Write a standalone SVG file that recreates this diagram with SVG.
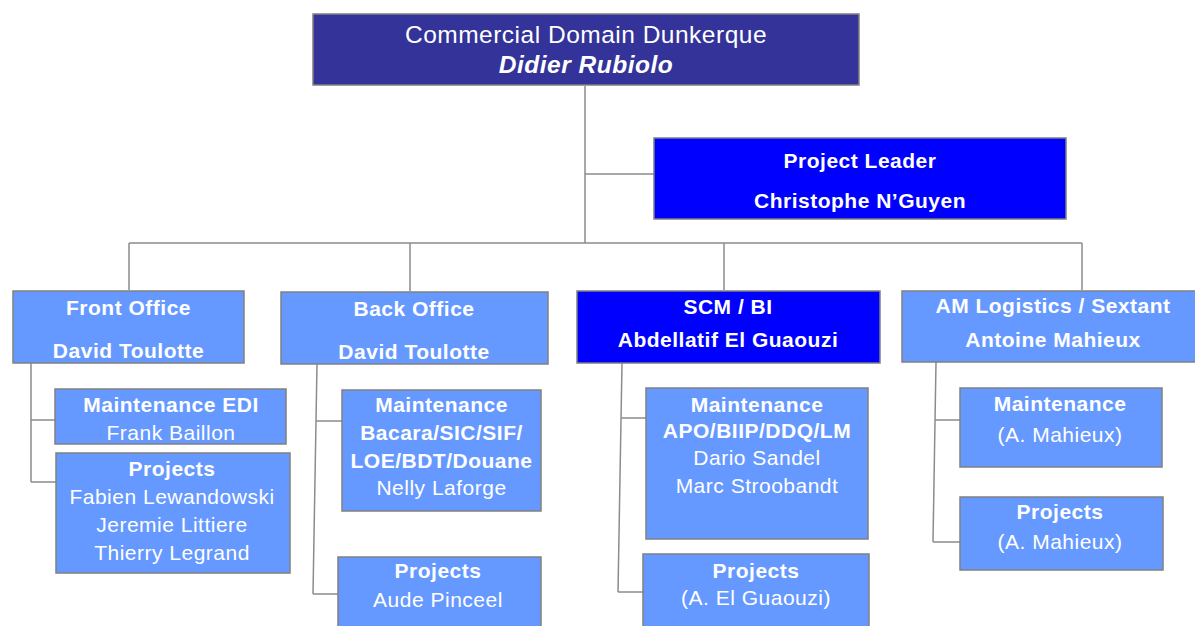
<svg xmlns="http://www.w3.org/2000/svg" width="1195" height="626" viewBox="0 0 1195 626">
<style>
.bx{stroke:#808080;stroke-width:1.5}
.navy{fill:#333399}
.blue{fill:#0000FF}
.lt{fill:#6699FF}
.t{font-family:"Liberation Sans",Arial,sans-serif;fill:#fff;text-anchor:middle;font-size:21px;letter-spacing:0.5px}
.b{font-weight:bold}
.c{fill:none;stroke:#8c8c8c;stroke-width:1.5}
</style>
<rect width="1195" height="626" fill="#fff"/>
<g id="connectors">
<path class="c" d="M585 86V243M585 174H654M129 243H1082M129 243V290M410 243V291M724 243V290M1082 243V290"/>
<path class="c" d="M31 363V482M31 420H55M31 482H56"/>
<path class="c" d="M317 364L313 594M316 421H342M313 594H338"/>
<path class="c" d="M622 363L618 592M621 418H646M618 592H643"/>
<path class="c" d="M936 362L933 542M935 420H960M933 542H960"/>
</g>
<g id="root">
<rect class="bx navy" x="313" y="14" width="546" height="71"/>
<text class="t" x="586" y="43" style="font-size:24.5px;letter-spacing:0.5px">Commercial Domain Dunkerque</text>
<text class="t b" x="586" y="73" style="font-size:24.5px;font-style:italic;letter-spacing:0.5px">Didier Rubiolo</text>
</g>
<g id="project-leader">
<rect class="bx blue" x="654" y="138" width="412" height="81"/>
<text class="t b" x="860" y="168">Project Leader</text>
<text class="t b" x="860" y="208">Christophe N’Guyen</text>
</g>
<g id="front-office">
<rect class="bx lt" x="13" y="291" width="231" height="72"/>
<text class="t b" x="128.5" y="315">Front Office</text>
<text class="t b" x="128.5" y="358">David Toulotte</text>
</g>
<g id="fo-maintenance">
<rect class="bx lt" x="55" y="389" width="231" height="55"/>
<text class="t b" x="171" y="412">Maintenance EDI</text>
<text class="t" x="171" y="440">Frank Baillon</text>
</g>
<g id="fo-projects">
<rect class="bx lt" x="56" y="453" width="234" height="120"/>
<text class="t b" x="172" y="476">Projects</text>
<text class="t" x="172" y="504">Fabien Lewandowski</text>
<text class="t" x="172" y="532">Jeremie Littiere</text>
<text class="t" x="172" y="559.5">Thierry Legrand</text>
</g>
<g id="back-office">
<rect class="bx lt" x="281" y="292" width="267" height="72"/>
<text class="t b" x="414" y="316">Back Office</text>
<text class="t b" x="414" y="359">David Toulotte</text>
</g>
<g id="bo-maintenance">
<rect class="bx lt" x="342" y="390" width="199" height="121"/>
<text class="t b" x="441.5" y="412">Maintenance</text>
<text class="t b" x="441.5" y="440">Bacara/SIC/SIF/</text>
<text class="t b" x="441.5" y="467.5">LOE/BDT/Douane</text>
<text class="t" x="441.5" y="495">Nelly Laforge</text>
</g>
<g id="bo-projects">
<rect class="bx lt" x="338" y="557" width="203" height="80"/>
<text class="t b" x="438" y="578">Projects</text>
<text class="t" x="438" y="607">Aude Pinceel</text>
</g>
<g id="scm-bi">
<rect class="bx blue" x="577" y="291" width="303" height="72"/>
<text class="t b" x="728" y="314">SCM / BI</text>
<text class="t b" x="728" y="347">Abdellatif El Guaouzi</text>
</g>
<g id="scm-maintenance">
<rect class="bx lt" x="646" y="388" width="222" height="151"/>
<text class="t b" x="757" y="411.5">Maintenance</text>
<text class="t b" x="757" y="437.5">APO/BIIP/DDQ/LM</text>
<text class="t" x="757" y="465">Dario Sandel</text>
<text class="t" x="757" y="493">Marc Stroobandt</text>
</g>
<g id="scm-projects">
<rect class="bx lt" x="643" y="554" width="226" height="80"/>
<text class="t b" x="756" y="577.5">Projects</text>
<text class="t" x="756" y="605">(A. El Guaouzi)</text>
</g>
<g id="am-logistics">
<rect class="bx lt" x="902" y="291" width="300" height="71"/>
<text class="t b" x="1053" y="313">AM Logistics / Sextant</text>
<text class="t b" x="1053" y="347">Antoine Mahieux</text>
</g>
<g id="am-maintenance">
<rect class="bx lt" x="960" y="388" width="202" height="79"/>
<text class="t b" x="1060" y="411">Maintenance</text>
<text class="t" x="1060" y="441.5">(A. Mahieux)</text>
</g>
<g id="am-projects">
<rect class="bx lt" x="960" y="497" width="203" height="73"/>
<text class="t b" x="1060" y="519">Projects</text>
<text class="t" x="1060" y="549">(A. Mahieux)</text>
</g>
</svg>
